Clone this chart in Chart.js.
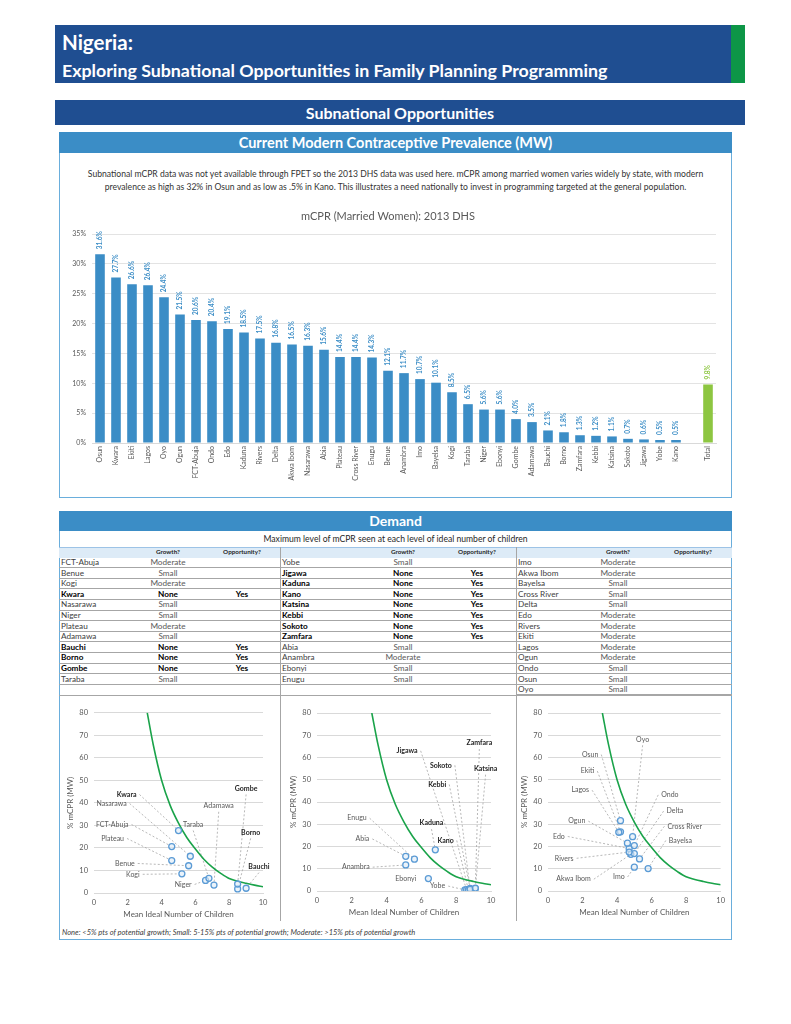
<!DOCTYPE html>
<html><head><meta charset="utf-8">
<script src="https://cdn.jsdelivr.net/npm/chart.js@4.4.0/dist/chart.umd.min.js"></script>
<style>
body{margin:0;width:791px;height:1024px;position:relative;background:#fff;font-family:Lato,"Open Sans",sans-serif;overflow:hidden}
.a{position:absolute}
.band{color:#fff;font-weight:bold;text-align:center}
.cell{position:absolute;font-size:8.2px;white-space:nowrap;color:#404040}
.line{position:absolute;height:1px;background:#a6a6a6}
</style></head><body>
<!-- header -->
<div class="a" style="left:55px;top:25px;width:690px;height:58px;background:#1F4E91"></div>
<div class="a" style="left:731px;top:25px;width:14px;height:58px;background:#0D9647"></div>
<div class="a" style="left:62px;top:30px;color:#fff;font-weight:bold;font-size:20.5px">Nigeria:</div>
<div class="a" style="left:62px;top:59px;color:#fff;font-weight:bold;font-size:17.8px">Exploring Subnational Opportunities in Family Planning Programming</div>
<div class="a band" style="left:55px;top:100px;width:690px;height:25px;line-height:25px;background:#1F4E91;font-size:16px">Subnational Opportunities</div>

<!-- panel 1 -->
<div class="a" style="left:59px;top:132px;width:671px;height:364px;border:1px solid #6AAEDC"></div>
<div class="a band" style="left:59px;top:132px;width:673px;height:21px;line-height:21px;background:#3B8DC6;font-size:14.5px">Current Modern Contraceptive Prevalence (MW)</div>
<div class="a" style="left:60px;top:168px;width:671px;text-align:center;font-size:8.6px;font-weight:400;line-height:13px;color:#333">Subnational mCPR data was not yet available through FPET so the 2013 DHS data was used here. mCPR among married women varies widely by state, with modern<br>prevalence as high as 32% in Osun and as low as .5% in Kano. This illustrates a need nationally to invest in programming targeted at the general population.</div>
<canvas id="bar" class="a" style="left:60px;top:200px" width="672" height="295"></canvas>

<!-- panel 2 -->
<div class="a" style="left:59px;top:511px;width:671px;height:427px;border:1px solid #6AAEDC"></div>
<div class="a band" style="left:59px;top:511px;width:673px;height:20px;line-height:20px;background:#3B8DC6;font-size:14px">Demand</div>
<div class="a" style="left:59px;top:533px;width:673px;text-align:center;font-size:8.6px;line-height:13px;color:#262626">Maximum level of mCPR seen at each level of ideal number of children</div>
<div class="a" style="left:59px;top:547px;width:673px;height:10px;background:#DDEBF7;border-top:1px solid #9DC3E6"></div>
<div id="tbl"></div>
<div class="a" style="left:280px;top:547px;width:1px;height:374px;background:#a6a6a6"></div>
<div class="a" style="left:516px;top:547px;width:1px;height:374px;background:#a6a6a6"></div>
<canvas id="sc1" class="a" style="left:60px;top:700px" width="218" height="222"></canvas>
<canvas id="sc2" class="a" style="left:283px;top:700px" width="230" height="220"></canvas>
<canvas id="sc3" class="a" style="left:514px;top:700px" width="216" height="220"></canvas>
<div class="a" style="left:62px;top:928px;font-size:7.5px;font-style:italic;color:#404040">None: &lt;5% pts of potential growth; Small: 5-15% pts of potential growth; Moderate: &gt;15% pts of potential growth</div>

<script>
// ---------- DATA ----------
const states = ['Osun','Kwara','Ekiti','Lagos','Oyo','Ogun','FCT-Abuja','Ondo','Edo','Kaduna','Rivers','Delta','Akwa Ibom','Nasarawa','Abia','Plateau','Cross River','Enugu','Benue','Anambra','Imo','Bayelsa','Kogi','Taraba','Niger','Ebonyi','Gombe','Adamawa','Bauchi','Borno','Zamfara','Kebbi','Katsina','Sokoto','Jigawa','Yobe','Kano','','Total'];
const mcprValues = [31.6,27.7,26.6,26.4,24.4,21.5,20.6,20.4,19.1,18.5,17.5,16.8,16.5,16.3,15.6,14.4,14.4,14.3,12.1,11.7,10.7,10.1,8.5,6.5,5.6,5.6,4.0,3.5,2.1,1.8,1.3,1.2,1.1,0.7,0.6,0.5,0.5,null,9.8];
const yTickLabels = ['0%','5%','10%','15%','20%','25%','30%','35%'];

const groupA = ['FCT-Abuja','Benue','Kogi','Kwara','Nasarawa','Niger','Plateau','Adamawa','Bauchi','Borno','Gombe','Taraba'];
const growthA = ['Moderate','Small','Moderate','None','Small','Small','Moderate','Small','None','None','None','Small'];
const oppA = ['','','','Yes','','','','','Yes','Yes','Yes',''];
const idealA = [4.6,5.6,5.2,5.0,5.7,6.6,4.6,7.1,9.0,8.5,8.5,6.8];

const groupB = ['Yobe','Jigawa','Kaduna','Kano','Katsina','Kebbi','Sokoto','Zamfara','Abia','Anambra','Ebonyi','Enugu'];
const growthB = ['Small','None','None','None','None','None','None','None','Small','Moderate','Small','Small'];
const oppB = ['','Yes','Yes','Yes','Yes','Yes','Yes','Yes','','','',''];
const idealB = [8.5,8.6,6.8,8.7,9.1,8.8,8.8,9.1,5.1,5.1,6.4,5.6];

const groupC = ['Imo','Akwa Ibom','Bayelsa','Cross River','Delta','Edo','Rivers','Ekiti','Lagos','Ogun','Ondo','Osun','Oyo'];
const growthC = ['Moderate','Moderate','Small','Small','Small','Moderate','Moderate','Moderate','Moderate','Moderate','Small','Small','Small'];
const oppC = ['','','','','','','','','','','','',''];
const idealC = [5.0,4.8,5.8,5.3,5.0,4.7,4.7,4.2,4.1,4.6,5.0,4.2,4.9];

const curveX = [3.15,3.5,4,4.5,5,5.5,6,6.5,7,7.5,8,8.5,9,9.5,10];
const curveY = [80,66,50,39,31,24.5,19.5,15,11.5,8.7,6.4,5.2,4.3,3.5,2.8];

// ---------- LAYOUT / STYLE ----------
const BLUE='#3B8DC6', GREEN='#8DC641';
const FONT='Lato';
const placeA = {'Kwara':[1.93,43.7,'r'],'Nasarawa':[1.04,39.7,'r'],'FCT-Abuja':[1.08,30.4,'r'],'Plateau':[1.1,24.2,'r'],'Benue':[1.83,13.1,'r'],'Kogi':[2.3,8.3,'r'],'Niger':[5.28,3.8,'r'],'Taraba':[5.87,30.4,'b'],'Adamawa':[7.38,38.7,'b'],'Gombe':[9.0,46.4,'b'],'Borno':[9.27,26.9,'b'],'Bauchi':[9.76,11.7,'b']};
const placeB = {'Jigawa':[5.18,63,'r'],'Zamfara':[9.33,66.5,'b'],'Sokoto':[7.12,56.5,'r'],'Katsina':[9.69,55,'b'],'Kebbi':[6.91,47.9,'r'],'Kaduna':[6.58,30.5,'b'],'Kano':[7.39,22.7,'r'],'Enugu':[2.3,32.7,'r'],'Abia':[2.61,23.4,'r'],'Anambra':[2.23,10.7,'r'],'Ebonyi':[5.1,5.6,'n'],'Yobe':[6.93,2.2,'r']};
const placeC = {'Oyo':[5.48,68.2,'b'],'Osun':[2.44,61.3,'r'],'Ekiti':[2.29,53.9,'r'],'Lagos':[1.87,45.3,'r'],'Ondo':[7.06,43.2,'l'],'Delta':[7.35,35.9,'l'],'Cross River':[7.92,29.1,'l'],'Bayelsa':[7.67,22.7,'l'],'Ogun':[1.67,31.4,'r'],'Edo':[0.63,24.5,'r'],'Rivers':[0.94,14.7,'r'],'Akwa Ibom':[1.48,5.3,'r'],'Imo':[4.1,6.3,'r']};

function mcprOf(n){return mcprValues[states.indexOf(n)];}

// ---------- TABLE ----------
const tbl=document.getElementById('tbl');
const rowTop=557,rowH=10.6;
function cell(txt,x,top,align,bold,gray){
  const d=document.createElement('div');d.className='cell';d.textContent=txt;
  d.style.top=top+'px';d.style.height=rowH+'px';d.style.lineHeight=rowH+'px';
  if(align==='left'){d.style.left=x+'px';}else{d.style.left=(x-50)+'px';d.style.width='100px';d.style.textAlign='center';}
  if(bold){d.style.fontWeight='bold';d.style.color='#000';}else if(gray){d.style.color='#595959';}
  tbl.appendChild(d);
}
function hline(x,top,w){const d=document.createElement('div');d.className='line';d.style.left=x+'px';d.style.top=top+'px';d.style.width=w+'px';tbl.appendChild(d);}
function hdr(txt,x){const d=document.createElement('div');d.className='cell';d.textContent=txt;d.style.left=(x-50)+'px';d.style.width='100px';d.style.textAlign='center';d.style.top='547px';d.style.lineHeight='10px';d.style.fontSize='6.3px';d.style.fontWeight='bold';d.style.color='#262626';tbl.appendChild(d);}
function group(names,growth,opp,xN,xG,xO,x0,x1){
  hdr('Growth?',xG);hdr('Opportunity?',xO);
  names.forEach((n,i)=>{
    const t=rowTop+i*rowH;const b=growth[i]==='None';
    cell(n,xN,t,'left',b,false);cell(growth[i],xG,t,'center',b,true);
    if(opp[i])cell(opp[i],xO,t,'center',b,false);
    hline(x0,t+rowH-0.5,x1-x0);
  });
}
group(groupA,growthA,oppA,61,168,242,59,280);
group(groupB,growthB,oppB,282,403,477,280,516);
group(groupC,growthC,oppC,518,618,693,516,732);
hline(59,695,673);

// ---------- BAR CHART ----------
const barValuePlugin={id:'barvals',afterDatasetsDraw(chart){
  const ctx=chart.ctx,meta=chart.getDatasetMeta(0),data=chart.data.datasets[0].data;
  ctx.save();ctx.font='bold 6.5px '+FONT;ctx.textBaseline='middle';ctx.textAlign='left';
  meta.data.forEach((bar,i)=>{const v=data[i];if(v==null)return;
    ctx.save();ctx.translate(bar.x,bar.y-5);ctx.rotate(-Math.PI/2);
    ctx.fillStyle=chart.data.labels[i]==='Total'?GREEN:BLUE;ctx.fillText(v.toFixed(1)+'%',0,0);ctx.restore();});
  ctx.restore();}};
new Chart(document.getElementById('bar'),{type:'bar',
  data:{labels:states,datasets:[{data:mcprValues,backgroundColor:states.map(s=>s==='Total'?GREEN:BLUE),categoryPercentage:1,barPercentage:0.6}]},
  options:{responsive:false,animation:false,events:[],
    layout:{padding:{left:0,right:16,top:0,bottom:0}},
    plugins:{legend:{display:false},tooltip:{enabled:false},
      title:{display:true,text:'mCPR (Married Women): 2013 DHS',color:'#595959',font:{family:FONT,size:11,weight:'normal'},padding:{top:10,bottom:10.8}}},
    scales:{
      x:{grid:{display:false,drawTicks:false},border:{color:'#D9D9D9'},ticks:{autoSkip:false,minRotation:90,maxRotation:90,padding:3,color:'#595959',font:{family:FONT,size:7}},afterFit(s){s.height=52;}},
      y:{min:0,max:35,grid:{color:'#E3E3E3',drawTicks:false},border:{display:false},ticks:{stepSize:5,padding:6,color:'#595959',font:{family:FONT,size:7},callback:(v,i)=>yTickLabels[i]},afterFit(s){s.width=32;}}
    }},
  plugins:[barValuePlugin]});

// ---------- SCATTER CHARTS ----------
const labelPlugin={id:'ptlabels',
  beforeDatasetsDraw(chart,args,opts){draw(chart,opts,true);},
  afterDatasetsDraw(chart,args,opts){draw(chart,opts,false);}};
function draw(chart,opts,lines){
  const ctx=chart.ctx,x=chart.scales.x,y=chart.scales.y;
  ctx.save();
  chart.data.datasets[0].data.forEach(p=>{
    const L=opts.place[p.name];if(!L)return;
    const bold=opts.bold.includes(p.name);
    ctx.font=(bold?'bold ':'')+'7px '+FONT;
    const tx=x.getPixelForValue(L[0]),ty=y.getPixelForValue(L[1]);
    const w=ctx.measureText(p.name).width;
    if(!lines){ctx.fillStyle=bold?'#262626':'#595959';ctx.textAlign='center';ctx.textBaseline='middle';ctx.fillText(p.name,tx,ty);return;}
    let sx,sy;
    if(L[2]==='r'){sx=tx+w/2+3;sy=ty;}else if(L[2]==='l'){sx=tx-w/2-3;sy=ty;}else if(L[2]==='b'){sx=tx;sy=ty+6;}else return;
    const px=x.getPixelForValue(p.x),py=y.getPixelForValue(p.y);
    const dx=px-sx,dy=py-sy,d=Math.hypot(dx,dy)||1;
    ctx.setLineDash([2,2]);ctx.strokeStyle='#A6A6A6';ctx.lineWidth=0.8;
    ctx.beginPath();ctx.moveTo(sx,sy);ctx.lineTo(px-dx/d*3.5,py-dy/d*3.5);ctx.stroke();
  });
  ctx.restore();
}
function scatter(id,names,ideal,place,pad){
  const bold=names.filter((n,i)=>[growthA,growthB,growthC].some((g,k)=>{const grp=[groupA,groupB,groupC][k];const j=grp.indexOf(n);return j>=0&&g[j]==='None';}));
  new Chart(document.getElementById(id),{type:'scatter',
    data:{datasets:[
      {data:names.map((n,i)=>({x:ideal[i],y:mcprOf(n),name:n})),pointRadius:3,borderColor:'#5B9BD5',borderWidth:1.3,backgroundColor:'rgba(221,235,247,0.6)'},
      {data:curveX.map((v,i)=>({x:v,y:curveY[i]})),showLine:true,borderColor:'#1AA34A',borderWidth:1.6,pointRadius:0,cubicInterpolationMode:'monotone'}
    ]},
    options:{responsive:false,animation:false,events:[],
      layout:{padding:{left:6,top:pad.top,right:pad.right,bottom:0}},
      plugins:{legend:{display:false},tooltip:{enabled:false},ptlabels:{place,bold}},
      scales:{
        x:{type:'linear',min:0,max:10,grid:{display:false,drawTicks:false},border:{color:'#D9D9D9'},
          ticks:{stepSize:2,padding:5,color:'#595959',font:{family:FONT,size:7.5}},
          title:{display:true,text:'Mean Ideal Number of Children',color:'#595959',font:{family:FONT,size:8},padding:{top:0,bottom:3}},
          afterFit(s){s.height=29;}},
        y:{min:0,max:80,grid:{color:'#D9D9D9',drawTicks:false},border:{display:false},
          ticks:{stepSize:10,padding:6,color:'#595959',font:{family:FONT,size:7.5}},
          title:{display:true,text:'% mCPR (MW)',color:'#595959',font:{family:FONT,size:8},padding:0},
          afterFit(s){s.width=28;}}
      }},
    plugins:[labelPlugin]});
}
scatter('sc1',groupA,idealA,placeA,{top:12.7,right:15});
scatter('sc2',groupB,idealB,placeB,{top:13,right:22});
scatter('sc3',groupC,idealC,placeC,{top:13,right:9});
</script>
</body></html>
